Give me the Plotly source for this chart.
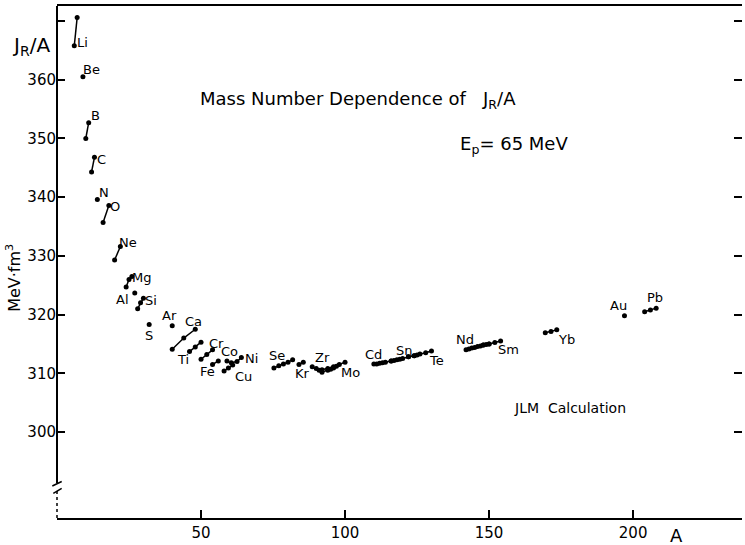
import plotly.graph_objects as go

# ---- data (mass number A, J_R/A in MeV fm^3) ----
series = {
    "Li": ([6, 7], [365.8, 370.6]),
    "Be": ([9], [360.5]),
    "B": ([10, 11], [350.0, 352.7]),
    "C": ([12, 13], [344.3, 346.8]),
    "N": ([14], [339.6]),
    "O": ([16, 18], [335.7, 338.6]),
    "Ne": ([20, 22], [329.3, 331.6]),
    "Mg": ([24, 25, 26], [324.7, 326.0, 326.5]),
    "Al": ([27], [323.7]),
    "Si": ([28, 29, 30], [321.0, 322.0, 322.8]),
    "S": ([32], [318.3]),
    "Ar": ([40], [318.1]),
    "Ca": ([40, 44, 48], [314.1, 316.0, 317.5]),
    "Ti": ([46, 48, 50], [313.7, 314.5, 315.3]),
    "Cr": ([50, 52, 54], [312.4, 313.2, 314.0]),
    "Fe": ([54, 56], [311.5, 312.1]),
    "Co": ([59], [312.1]),
    "Ni": ([60.5, 62.5, 64], [311.8, 312.0, 312.7]),
    "Cu": ([58, 59.5, 61], [310.4, 310.9, 311.4]),
    "Se": ([75.3, 77, 78.6, 80.2, 81.8], [310.9, 311.3, 311.6, 311.9, 312.3]),
    "Kr": ([84, 85.5], [311.5, 311.9]),
    "Zr": ([88.6, 90, 91, 92, 94, 96], [311.1, 310.8, 310.5, 310.6, 310.8, 311.1]),
    "Mo": ([92, 94, 95, 96, 97, 98, 100], [310.2, 310.5, 310.7, 310.9, 311.2, 311.5, 311.9]),
    "Cd": ([110, 111, 112, 113, 114, 116], [311.6, 311.6, 311.7, 311.8, 311.9, 312.1]),
    "Sn": ([116, 117, 118, 119, 120, 122, 124], [312.1, 312.2, 312.3, 312.4, 312.5, 312.8, 313.0]),
    "Te": ([122, 124, 125, 126, 128, 130], [312.8, 313.0, 313.1, 313.3, 313.5, 313.8]),
    "Nd": ([142, 143, 144, 145, 146, 148, 150], [314.0, 314.15, 314.3, 314.4, 314.55, 314.8, 315.0]),
    "Sm": ([147, 148, 149, 150, 152, 154], [314.65, 314.8, 314.9, 315.0, 315.25, 315.5]),
    "Yb": ([169.5, 171.5, 173.5], [316.9, 317.1, 317.4]),
    "Au": ([197], [319.8]),
    "Pb": ([204, 206, 208], [320.5, 320.8, 321.1]),
}

# element label positions (A, J_R/A)
label_pos = {
    "Li": (9.0, 366.35), "Be": (12.0, 361.8), "B": (13.5, 354.0), "C": (15.3, 346.5),
    "N": (16.15, 340.8), "O": (20.3, 338.5), "Ne": (24.5, 332.2), "Mg": (29.2, 326.4),
    "Al": (22.9, 322.5), "Si": (32.6, 322.4), "S": (31.9, 316.5), "Ar": (39.2, 319.8),
    "Ca": (47.4, 318.8), "Ti": (43.9, 312.4), "Cr": (55.2, 315.0), "Co": (59.9, 313.7),
    "Ni": (67.4, 312.6), "Fe": (52.4, 310.3), "Cu": (64.9, 309.45), "Se": (76.2, 313.1),
    "Kr": (85.1, 309.9), "Zr": (92.2, 312.7), "Mo": (101.9, 310.2), "Cd": (109.7, 313.2),
    "Sn": (120.5, 313.9), "Te": (131.6, 312.1), "Nd": (141.7, 315.8), "Sm": (156.8, 314.0),
    "Yb": (176.9, 315.8), "Au": (194.8, 321.55), "Pb": (207.5, 322.9),
}

y_ticks = [300, 310, 320, 330, 340, 350, 360, 370]
y_ticktext = ["300", "310", "320", "330", "340", "350", "360", ""]
x_ticks = [50, 100, 150, 200]

FONT = "DejaVu Sans"
fig = go.Figure()
for name, (xs, ys) in series.items():
    fig.add_trace(go.Scatter(
        x=xs, y=ys, mode="lines+markers" if len(xs) > 1 else "markers",
        line=dict(color="black", width=1.5),
        marker=dict(color="black", size=5),
        showlegend=False, hoverinfo="skip", cliponaxis=False))

annotations = []
for name, (ax, ay) in label_pos.items():
    annotations.append(dict(x=ax, y=ay, xref="x", yref="y", text=name, showarrow=False,
                            font=dict(family=FONT, size=13, color="black")))

annotations += [
    dict(x=0.2058, y=0.8164, xref="paper", yref="paper", xanchor="left", yanchor="middle",
         text="Mass Number Dependence of&nbsp;&nbsp;&nbsp;J<sub>R</sub>/A", showarrow=False,
         font=dict(family=FONT, size=18, color="black")),
    dict(x=0.5854, y=0.7285, xref="paper", yref="paper", xanchor="left", yanchor="middle",
         text="E<sub>p</sub>= 65 MeV", showarrow=False,
         font=dict(family=FONT, size=18, color="black")),
    dict(x=0.664, y=0.2148, xref="paper", yref="paper", xanchor="left", yanchor="middle",
         text="JLM&nbsp;&nbsp;Calculation", showarrow=False,
         font=dict(family=FONT, size=14, color="black")),
    dict(x=-0.038, y=0.922, xref="paper", yref="paper", xanchor="center", yanchor="middle",
         text="J<sub>R</sub>/A", showarrow=False,
         font=dict(family=FONT, size=20, color="black")),
    dict(x=-0.0628, y=0.469, xref="paper", yref="paper", xanchor="center", yanchor="middle",
         text="MeV·fm<sup>3</sup>", textangle=-90, showarrow=False,
         font=dict(family=FONT, size=16, color="black")),
    dict(x=0.905, y=-0.035, xref="paper", yref="paper", xanchor="center", yanchor="middle",
         text="A", showarrow=False,
         font=dict(family=FONT, size=18, color="black")),
]

# y axis drawn by hand to show the break
H = 512.0
def py(p):
    return (518.0 - p) / H
def px(p):
    return (p - 57.0) / 685.0

shapes = [
    dict(type="line", xref="paper", yref="paper", x0=0, x1=0, y0=py(483), y1=1,
         line=dict(color="black", width=2)),
    dict(type="line", xref="paper", yref="paper", x0=0, x1=0, y0=0, y1=py(490),
         line=dict(color="black", width=1.5, dash="dot")),
    dict(type="line", xref="paper", yref="paper", x0=px(52.3), x1=px(61.7), y0=py(486), y1=py(481.5),
         line=dict(color="black", width=1.5)),
    dict(type="line", xref="paper", yref="paper", x0=px(53.3), x1=px(61.7), y0=py(493.3), y1=py(488.3),
         line=dict(color="black", width=1.5)),
]

fig.update_layout(
    width=745, height=545,
    margin=dict(l=57, r=3, t=6, b=27),
    paper_bgcolor="white", plot_bgcolor="white",
    font=dict(family=FONT, color="black"),
    annotations=annotations, shapes=shapes,
    xaxis=dict(range=[0, 237.8], tickvals=x_ticks, ticks="inside", ticklen=8, tickwidth=1.5,
               tickcolor="black", showline=True, linecolor="black", linewidth=2, mirror=True,
               showgrid=False, zeroline=False, tickfont=dict(family=FONT, size=15, color="black")),
    yaxis=dict(range=[285.35, 372.57], tickvals=y_ticks, ticktext=y_ticktext, ticks="inside",
               ticklen=8, tickwidth=1.5, tickcolor="black", showline=False, mirror="ticks",
               showgrid=False, zeroline=False, tickfont=dict(family=FONT, size=15, color="black")),
)

fig.write_html("out.html", config={"displayModeBar": False},
               post_script="document.body.style.margin='0';")
